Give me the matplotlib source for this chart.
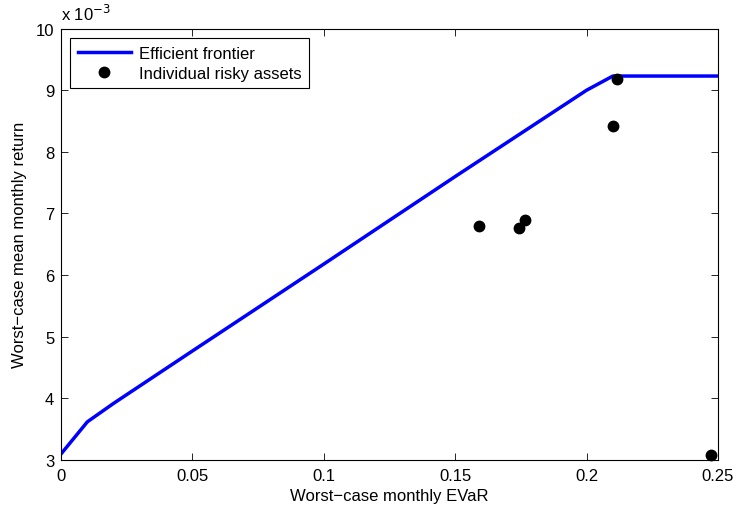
import matplotlib
matplotlib.use("Agg")
import matplotlib.pyplot as plt
import numpy as np

plt.rcParams['font.family'] = ['Liberation Sans', 'DejaVu Sans']

# Efficient frontier (x: worst-case monthly EVaR, y: worst-case mean monthly return, x1e-3)
frontier_x = [0.0, 0.01, 0.02, 0.05, 0.10, 0.15, 0.20, 0.21, 0.25]
frontier_y = [3.10, 3.62, 3.92, 4.77, 6.18, 7.60, 9.00, 9.23, 9.23]

# Individual risky assets
assets_x = [0.159, 0.1742, 0.1766, 0.2101, 0.2117, 0.2473]
assets_y = [6.80, 6.77, 6.90, 8.42, 9.18, 3.08]

xticks = [0, 0.05, 0.1, 0.15, 0.2, 0.25]
xtick_labels = ['0', '0.05', '0.1', '0.15', '0.2', '0.25']
yticks = [3, 4, 5, 6, 7, 8, 9, 10]

fig = plt.figure(figsize=(7.36, 5.10), dpi=100)
ax = fig.add_axes([0.083, 0.096, 0.8925, 0.846])

ax.plot(frontier_x, frontier_y, color='#0000ff', linewidth=2.5,
        label='Efficient frontier', zorder=2)
ax.plot(assets_x, assets_y, linestyle='none', marker='o', color='black',
        markersize=7.5, label='Individual risky assets', zorder=3, clip_on=False)

ax.set_xlim(0, 0.25)
ax.set_ylim(3, 10)
ax.set_xticks(xticks)
ax.set_xticklabels(xtick_labels)
ax.set_yticks(yticks)
ax.tick_params(direction='in', top=True, right=True, length=5, width=0.6,
               labelsize=12, colors='black')
ax.tick_params(axis='x', pad=6)
ax.tick_params(axis='y', pad=5)
for s in ax.spines.values():
    s.set_linewidth(0.8)

ax.text(0.0, 1.012, r'x 10$^{-3}$', transform=ax.transAxes, fontsize=12,
        ha='left', va='bottom')

ax.set_xlabel('Worst\u2212case monthly EVaR', fontsize=12, labelpad=3)
ax.set_ylabel('Worst\u2212case mean monthly return', fontsize=12, labelpad=6)

leg = ax.legend(loc='upper left', fontsize=12, frameon=True, fancybox=False,
                edgecolor='black', framealpha=1, borderpad=0.45,
                handlelength=3.2, handletextpad=0.5, labelspacing=0.3,
                borderaxespad=0, bbox_to_anchor=(0.0137, 0.978))
leg.get_frame().set_linewidth(0.8)

fig.savefig('out.png', dpi=100)
